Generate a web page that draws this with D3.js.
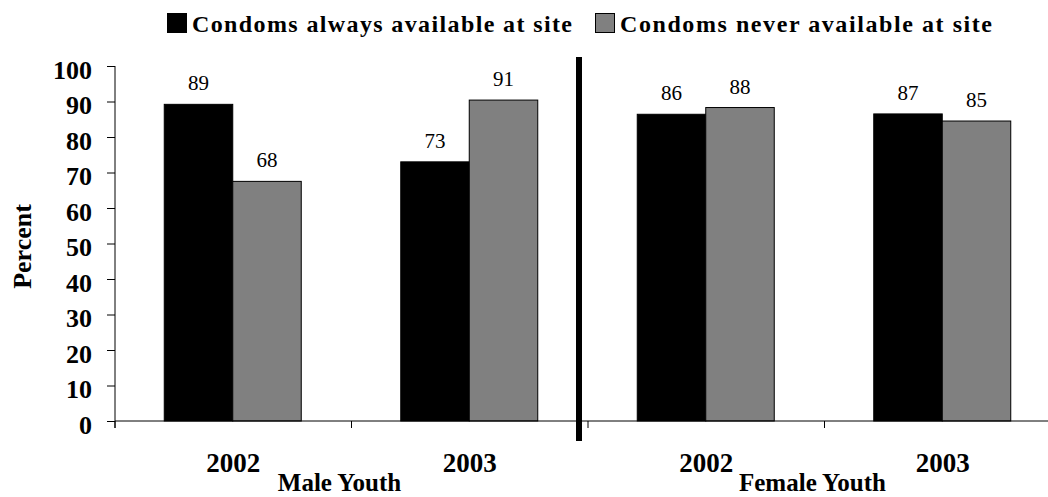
<!DOCTYPE html>
<html>
<head>
<meta charset="utf-8">
<script src="https://cdn.jsdelivr.net/npm/d3@7"></script>
<style>
  html, body { margin: 0; padding: 0; background: #fff; overflow: hidden; }
  svg { display: block; }
  svg text { font-family: "Times New Roman", "Liberation Serif", Tinos, "DejaVu Serif", serif; }
</style>
</head>
<body>
<svg id="chart" width="1048" height="497"></svg>
<script>
// ---- data ----
const groups = ["Male Youth", "Female Youth"];
const years = ["2002", "2003"];
const categories = ["Male Youth 2002", "Male Youth 2003", "Female Youth 2002", "Female Youth 2003"];
const categoryYears = ["2002", "2003", "2002", "2003"];
const seriesNames = ["Condoms always available at site", "Condoms never available at site"];
const alwaysValues = [89.2, 73.0, 86.4, 86.5];
const neverValues = [67.5, 90.4, 88.3, 84.5];
const alwaysLabels = ["89", "73", "86", "87"];
const neverLabels = ["68", "91", "88", "85"];
const yTicks = [0, 10, 20, 30, 40, 50, 60, 70, 80, 90, 100];
const yTitle = "Percent";
const colors = ["#000000", "#808080"];

// ---- layout ----
const svg = d3.select("#chart");
const plotLeft = 115, plotRight = 1061, plotTop = 66, plotBottom = 421;

const x0 = d3.scaleBand().domain(categories).range([plotLeft, plotRight]).padding(0);
const bw = x0.bandwidth();
const x1 = d3.scaleBand().domain(seriesNames).range([bw / 2 - 69, bw / 2 + 68]).padding(0);
const y = d3.scaleLinear().domain([0, 100]).range([plotBottom, plotTop]);

const rows = categories.map((c, i) => ({
  cat: c,
  vals: [
    { s: seriesNames[0], v: alwaysValues[i], label: alwaysLabels[i] },
    { s: seriesNames[1], v: neverValues[i], label: neverLabels[i] }
  ]
}));

// bars
const g = svg.append("g");
const cg = g.selectAll("g.cat").data(rows).join("g")
  .attr("class", "cat")
  .attr("transform", d => `translate(${x0(d.cat)},0)`);

cg.selectAll("rect").data(d => d.vals).join("rect")
  .attr("x", d => x1(d.s))
  .attr("y", d => y(d.v))
  .attr("width", x1.bandwidth())
  .attr("height", d => y(0) - y(d.v))
  .attr("fill", (d, i) => colors[i])
  .attr("stroke", "#000")
  .attr("stroke-width", 1);

cg.selectAll("text.val").data(d => d.vals).join("text")
  .attr("class", "val")
  .attr("x", d => x1(d.s) + x1.bandwidth() / 2)
  .attr("y", d => y(d.v) - 14)
  .attr("text-anchor", "middle")
  .attr("font-size", 21)
  .attr("fill", "#000")
  .text(d => d.label);

// y axis
const yAxis = d3.axisLeft(y).tickValues(yTicks).tickSize(8).tickPadding(15);
const ya = svg.append("g").attr("transform", `translate(${plotLeft},0)`).call(yAxis);
ya.attr("font-family", null);
ya.select(".domain").remove();
ya.selectAll(".tick line").attr("stroke", "#000");
ya.selectAll(".tick text")
  .attr("dy", 12)
  .attr("font-size", 26)
  .attr("font-weight", "bold")
  .attr("fill", "#000");
svg.append("line")
  .attr("x1", plotLeft).attr("x2", plotLeft)
  .attr("y1", y(100)).attr("y2", y(0) + 7)
  .attr("stroke", "#000");

// x axis
svg.append("line")
  .attr("x1", plotLeft).attr("x2", plotRight)
  .attr("y1", y(0)).attr("y2", y(0))
  .attr("stroke", "#000");
const boundaries = categories.map(c => x0(c)).concat([x0(categories[categories.length - 1]) + bw]);
svg.selectAll("line.xtick").data(boundaries).join("line")
  .attr("class", "xtick")
  .attr("x1", d => d).attr("x2", d => d)
  .attr("y1", y(0)).attr("y2", y(0) + 7)
  .attr("stroke", "#000");

svg.selectAll("text.xlab").data(categories).join("text")
  .attr("class", "xlab")
  .attr("x", c => x0(c) + bw / 2)
  .attr("y", 471.5)
  .attr("text-anchor", "middle")
  .attr("font-size", 27)
  .attr("font-weight", "bold")
  .text((c, i) => categoryYears[i]);

// group labels
svg.selectAll("text.glab").data(groups).join("text")
  .attr("class", "glab")
  .attr("x", (gname, i) => (x0(categories[i * 2]) + x0(categories[i * 2 + 1]) + bw) / 2 - 12)
  .attr("y", 491)
  .attr("text-anchor", "middle")
  .attr("font-size", 25)
  .attr("font-weight", "bold")
  .text(d => d);

// divider
svg.append("line")
  .attr("x1", x0(categories[2]) - 9).attr("x2", x0(categories[2]) - 9)
  .attr("y1", 57).attr("y2", 441)
  .attr("stroke", "#000")
  .attr("stroke-width", 6);

// y title
svg.append("text")
  .attr("transform", `translate(30.5,246.5) rotate(-90)`)
  .attr("text-anchor", "middle")
  .attr("font-size", 26)
  .attr("font-weight", "bold")
  .text(yTitle);

// legend
const legendItems = [
  { name: seriesNames[0], color: colors[0], sx: 167, tx: 192, len: 380 },
  { name: seriesNames[1], color: colors[1], sx: 595, tx: 620, len: 372 }
];
const lg = svg.append("g");
lg.selectAll("rect").data(legendItems).join("rect")
  .attr("x", d => d.sx + 0.5).attr("y", 13.5)
  .attr("width", 19).attr("height", 19)
  .attr("fill", d => d.color)
  .attr("stroke", "#000");
lg.selectAll("text").data(legendItems).join("text")
  .attr("x", d => d.tx).attr("y", 31.7)
  .attr("font-size", 24)
  .attr("font-weight", "bold")
  .attr("textLength", d => d.len)
  .attr("lengthAdjust", "spacing")
  .text(d => d.name);
</script>
</body>
</html>
